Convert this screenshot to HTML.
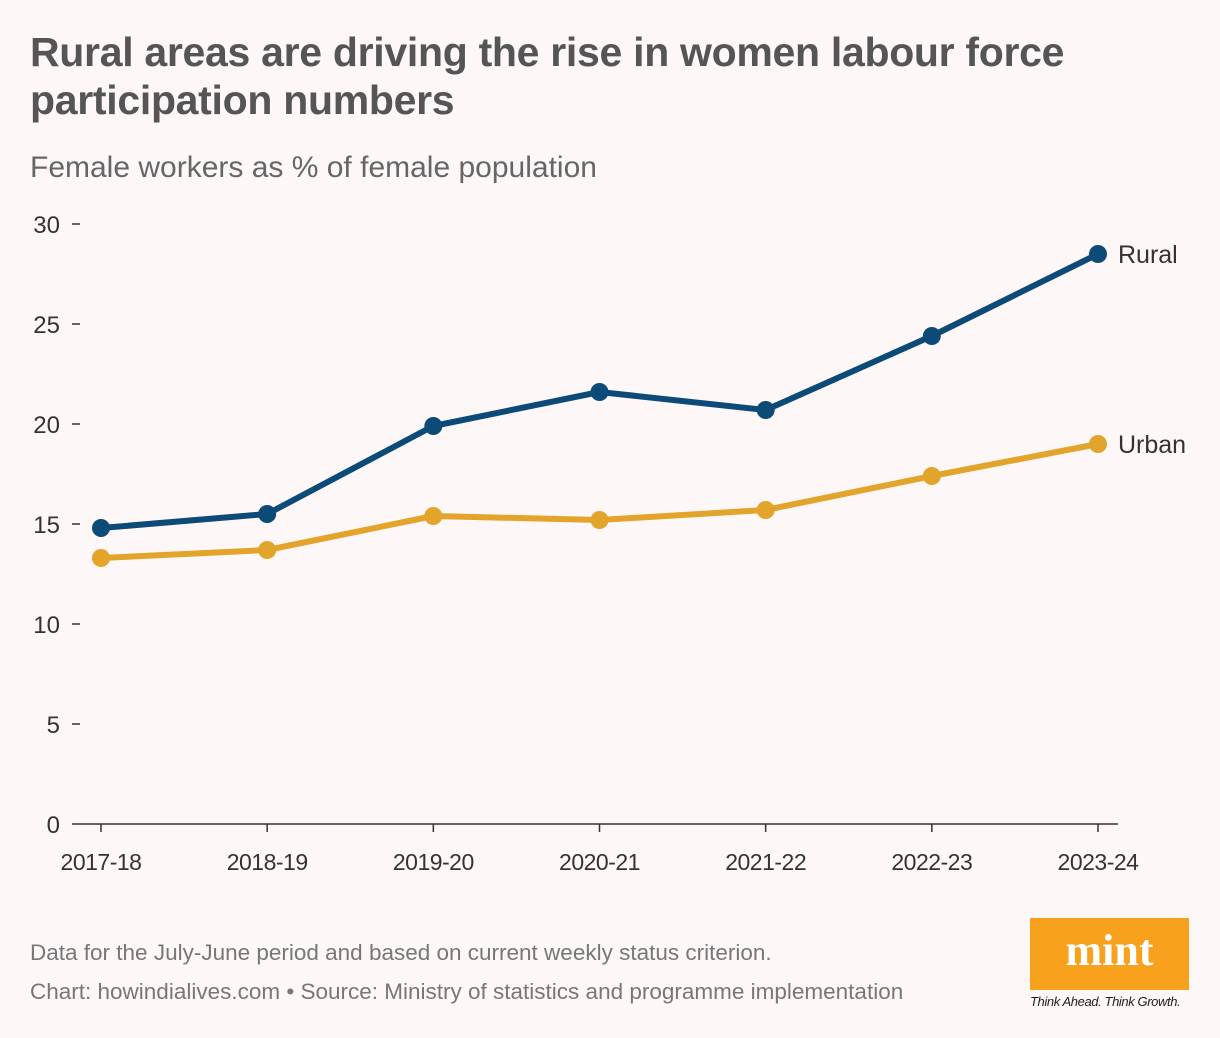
<!DOCTYPE html>
<html><head><meta charset="utf-8"><style>
body{margin:0;background:#fdf8f7;width:1220px;height:1038px;overflow:hidden;font-family:"Liberation Sans",sans-serif;}
.t{position:absolute;left:30px;top:28px;font-size:41px;font-weight:bold;color:#555;line-height:48px;letter-spacing:-0.3px;margin:0}
.s{position:absolute;left:30px;top:151px;font-size:30px;color:#666;}
.n{position:absolute;left:30px;font-size:22.5px;color:#777;}
</style></head><body>
<h1 class="t">Rural areas are driving the rise in women labour force<br>participation numbers</h1>
<div class="s">Female workers as % of female population</div>
<svg id="c" width="1220" height="1038" style="position:absolute;left:0;top:0"></svg>
<div class="n" style="top:940px">Data for the July-June period and based on current weekly status criterion.</div>
<div class="n" style="top:979px">Chart: howindialives.com • Source: Ministry of statistics and programme implementation</div>
<div style="position:absolute;left:1030px;top:918px;width:159px;height:72px;background:#f7a11d;color:#fff;font:bold 44px 'Liberation Serif',serif;text-align:center;line-height:66px">mint</div>
<div style="position:absolute;left:1030px;top:994px;font:italic 13px 'Liberation Sans',sans-serif;color:#222;letter-spacing:-0.4px">Think Ahead. Think Growth.</div>
<script>
const categories=["2017-18","2018-19","2019-20","2020-21","2021-22","2022-23","2023-24"];
const rural=[14.8,15.5,19.9,21.6,20.7,24.4,28.5];
const urban=[13.3,13.7,15.4,15.2,15.7,17.4,19.0];
const yTicks=[0,5,10,15,20,25,30];
const NS="http://www.w3.org/2000/svg",svg=document.getElementById('c');
const x=i=>101+i*(1098-101)/(categories.length-1);
const y=v=>824-v*20;
function el(t,a,p){const e=document.createElementNS(NS,t);for(const k in a)e.setAttribute(k,a[k]);(p||svg).appendChild(e);return e;}
yTicks.forEach(v=>{
 const tl=el('line',{x1:72,x2:80,y1:y(v),y2:y(v),stroke:'#333','stroke-width':1.5});
 
 
 const t=el('text',{x:60,y:y(v)+9,'text-anchor':'end','font-size':24,fill:'#333','font-family':'Liberation Sans'});
 t.textContent=v;
 
 
});
const ax=el('line',{x1:80,x2:1118,y1:824,y2:824,stroke:'#333','stroke-width':1.5});


categories.forEach((c,i)=>{
 const tl=el('line',{x1:x(i),x2:x(i),y1:824,y2:832,stroke:'#333','stroke-width':1.5});
 
 
 const t=el('text',{x:x(i),y:870,'text-anchor':'middle','font-size':23,fill:'#333','font-family':'Liberation Sans','letter-spacing':-0.5});
 t.textContent=c;
 
 
});
function series(vals,col,name,label){
 const p=el('polyline',{points:vals.map((v,i)=>x(i)+','+y(v)).join(' '),fill:'none',stroke:col,'stroke-width':6,'stroke-linejoin':'round'});
 
 
 vals.forEach((v,i)=>{
  const c=el('circle',{cx:x(i),cy:y(v),r:9,fill:col});
  
  
 });
 const t=el('text',{x:x(vals.length-1)+20,y:y(vals[vals.length-1])+9,'font-size':25,fill:'#333','font-family':'Liberation Sans'});
 t.textContent=label;
 
 
}
series(urban,'#e2a42b','urban','Urban');
series(rural,'#0c4a78','rural','Rural');
</script>
</body></html>
